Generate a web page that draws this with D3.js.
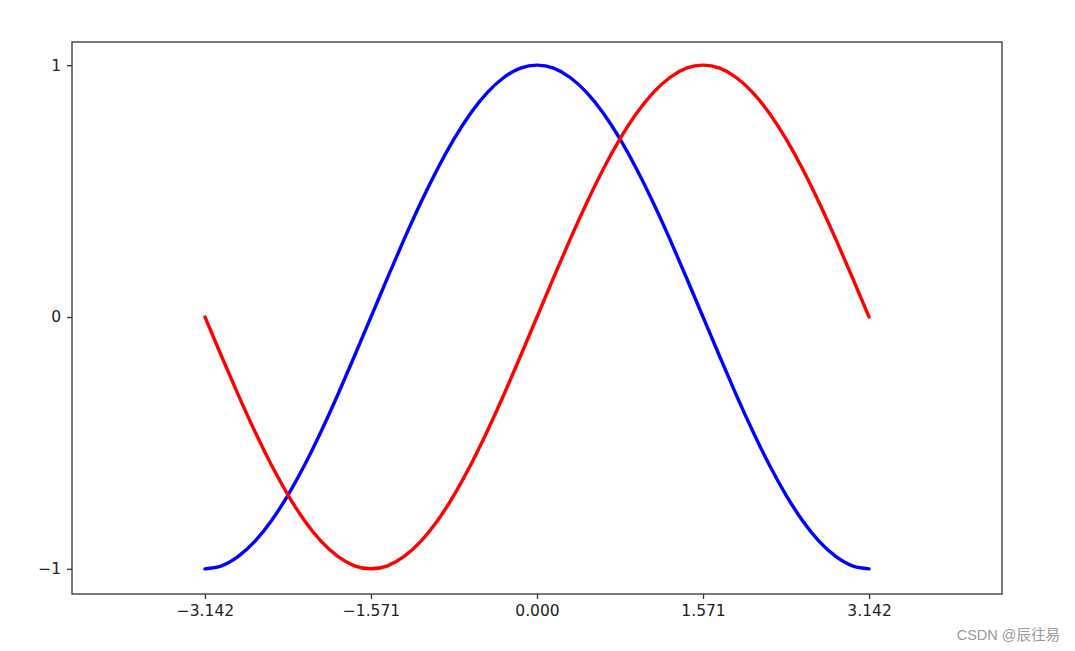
<!DOCTYPE html>
<html>
<head>
<meta charset="utf-8">
<script src="https://cdn.jsdelivr.net/npm/d3@7"></script>
<style>
  html, body { margin: 0; padding: 0; background: #fff; }
  svg { display: block; }
</style>
</head>
<body>
<svg id="chart" width="1075" height="651"></svg>
<script>
// ---- data ----
const xValues = [-3.142, -2.985, -2.827, -2.670, -2.513, -2.356, -2.199, -2.042, -1.885, -1.728,
                 -1.571, -1.414, -1.257, -1.100, -0.942, -0.785, -0.628, -0.471, -0.314, -0.157,
                  0.000,  0.157,  0.314,  0.471,  0.628,  0.785,  0.942,  1.100,  1.257,  1.414,
                  1.571,  1.728,  1.885,  2.042,  2.199,  2.356,  2.513,  2.670,  2.827,  2.985, 3.142];
const cosValues = [-1.000, -0.988, -0.951, -0.891, -0.809, -0.707, -0.588, -0.454, -0.309, -0.156,
                    0.000,  0.156,  0.309,  0.454,  0.588,  0.707,  0.809,  0.891,  0.951,  0.988,
                    1.000,  0.988,  0.951,  0.891,  0.809,  0.707,  0.588,  0.454,  0.309,  0.156,
                    0.000, -0.156, -0.309, -0.454, -0.588, -0.707, -0.809, -0.891, -0.951, -0.988, -1.000];
const sinValues = [ 0.000, -0.156, -0.309, -0.454, -0.588, -0.707, -0.809, -0.891, -0.951, -0.988,
                   -1.000, -0.988, -0.951, -0.891, -0.809, -0.707, -0.588, -0.454, -0.309, -0.156,
                    0.000,  0.156,  0.309,  0.454,  0.588,  0.707,  0.809,  0.891,  0.951,  0.988,
                    1.000,  0.988,  0.951,  0.891,  0.809,  0.707,  0.588,  0.454,  0.309,  0.156,  0.000];
const xTicks = [-3.142, -1.571, 0.000, 1.571, 3.142];
const xTickLabels = ["\u22123.142", "\u22121.571", "0.000", "1.571", "3.142"];
const yTicks = [-1, 0, 1];
const yTickLabels = ["\u22121", "0", "1"];
const xDomain = [-4.4, 4.4];
const yDomain = [-1.1, 1.092];
const series = [
  { name: "cosine", values: cosValues, color: "#0000ff" },
  { name: "sine", values: sinValues, color: "#ff0000" }
];
const watermark = "CSDN @辰往易";

// ---- layout ----
const svg = d3.select("#chart");
const mLeft = 72, mRight = 1002, mTop = 42, mBottom = 594;
const x = d3.scaleLinear().domain(xDomain).range([mLeft, mRight]);
const y = d3.scaleLinear().domain(yDomain).range([mBottom, mTop]);

const fontFamily = "'DejaVu Sans', sans-serif";

// lines
const line = d3.line()
  .x((d, i) => x(xValues[i]))
  .y(d => y(d))
  .curve(d3.curveNatural);

const plot = svg.append("g");
series.forEach(s => {
  plot.append("path")
    .datum(s.values)
    .attr("fill", "none")
    .attr("stroke", s.color)
    .attr("stroke-width", 3.4)
    .attr("stroke-linecap", "round")
    .attr("stroke-linejoin", "round")
    .attr("d", line);
});

// axes
const xAxis = d3.axisBottom(x)
  .tickValues(xTicks)
  .tickFormat((d, i) => xTickLabels[i])
  .tickSize(5)
  .tickPadding(6)
  .tickSizeOuter(0);
const yAxis = d3.axisLeft(y)
  .tickValues(yTicks)
  .tickFormat((d, i) => yTickLabels[i])
  .tickSize(5)
  .tickPadding(6)
  .tickSizeOuter(0);

const gx = svg.append("g").attr("transform", `translate(0,${mBottom})`).call(xAxis);
const gy = svg.append("g").attr("transform", `translate(${mLeft},0)`).call(yAxis);
[gx, gy].forEach(g => {
  g.select(".domain").remove();
  g.selectAll(".tick line").attr("stroke", "#333").attr("stroke-width", 1.3);
  g.selectAll(".tick text")
    .attr("fill", "#222")
    .style("font-family", fontFamily)
    .style("font-size", "15.5px");
});

// frame
svg.append("rect")
  .attr("x", mLeft).attr("y", mTop)
  .attr("width", mRight - mLeft).attr("height", mBottom - mTop)
  .attr("fill", "none")
  .attr("stroke", "#333")
  .attr("stroke-width", 1.3);

// watermark
svg.append("text")
  .attr("x", 1060).attr("y", 640)
  .attr("text-anchor", "end")
  .attr("fill", "#9a9a9a")
  .style("font-family", "'Liberation Sans', 'Noto Sans CJK SC', sans-serif")
  .style("font-size", "14.5px")
  .text(watermark);
</script>
</body>
</html>
